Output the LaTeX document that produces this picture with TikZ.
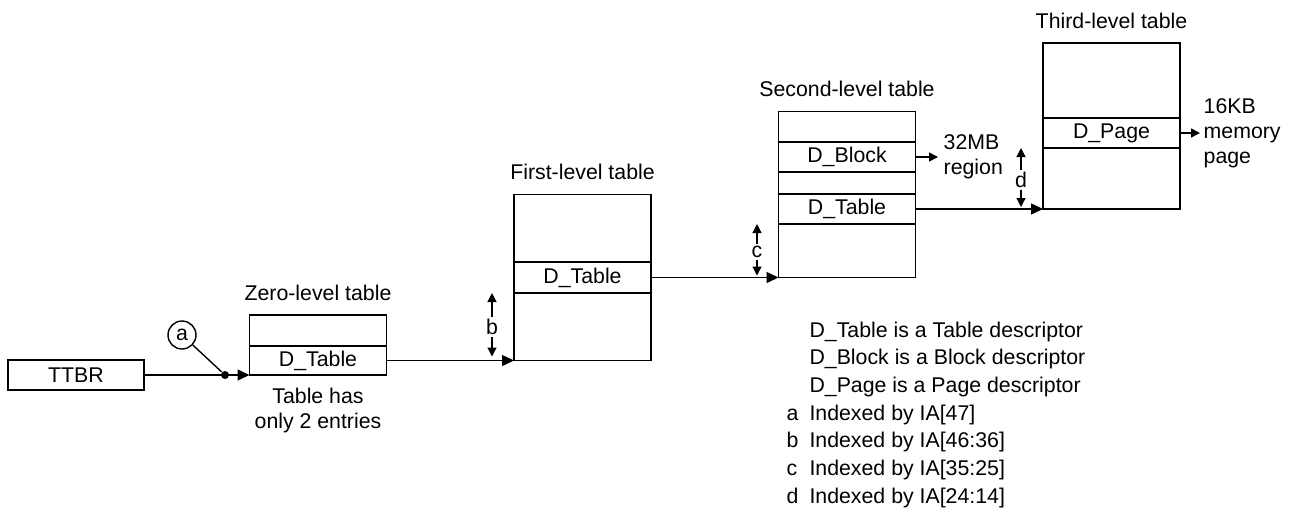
\documentclass[tikz,border=0pt]{standalone}
\usepackage{fontspec}
\setmainfont{Liberation Sans}
\usetikzlibrary{arrows.meta, positioning}
\tikzset{
  every picture/.style={line width=1.4pt, x=1pt, y=-1pt},
  every node/.append style={font=\fontsize{21.3}{25}\selectfont},
  tbl/.style={draw, minimum width=137pt, minimum height=166pt, inner sep=0pt, outer sep=0pt},
  entry/.style={draw, minimum width=137pt, minimum height=30pt, inner sep=0pt, outer sep=0pt},
  heading/.style={inner sep=0pt},
  link/.style={-{Triangle[length=12pt, width=11pt]}},
  short/.style={-{Triangle[length=9pt, width=9pt]}},
  idx/.style={-{Triangle[length=9pt, width=9pt]}, line width=1.2pt},
  idxlbl/.style={inner sep=1pt},
  note/.style={align=left, inner sep=0pt},
}

\begin{document}
\begin{tikzpicture}
  \useasboundingbox (0,0) rectangle (1298,523);
  % base register and zero-level table
  \node[entry, minimum width=136pt] (ttbr) at (76,375) {TTBR};
  \node[tbl, minimum height=60pt] (zt) at (318,345) {};
  \node[entry, anchor=south, minimum height=29pt] (ztD) at (zt.south) {D\_Table};
  \node[heading, above=14pt of zt] (ztH) {Zero-level table};
  \node[note, align=center, below=12pt of zt] (ztN) {Table has\\only 2 entries};
  \node[draw, circle, minimum size=28pt, inner sep=0pt] (ca) at (182,335) {a};
  \node[circle, fill, minimum size=8pt, inner sep=0pt] (dot) at (225,375) {};
  \draw[link] (ttbr.east |- zt.south) -- (zt.south west);
  \draw (ca) -- (dot);

  % first-level table
  \node[tbl] (ft) at (582.5,277.5) {};
  \node[entry, minimum height=31pt] (ftD) at (ft.center) {D\_Table};
  \node[heading, above=14pt of ft] (ftH) {First-level table};
  \draw[link] (ztD.east) -- (ft.south west);
  \node[idxlbl] (lb) at (492,327) {b};
  \draw[idx] (lb.north) -- (lb |- ftD.south);
  \draw[idx] (lb.south) -- ([yshift=4pt]lb |- ft.south);

  % second-level table
  \node[tbl] (st) at (847,194.5) {};
  \node[entry] (stB) at (847,157) {D\_Block};
  \node[entry] (stT) at (847,209) {D\_Table};
  \node[heading, above=14pt of st] (stH) {Second-level table};
  \draw[link] (ftD.east) -- (st.south west);
  \node[idxlbl] (lc) at (757,252) {c};
  \draw[idx] (lc.north) -- (lc |- stT.south);
  \draw[idx] (lc.south) -- ([yshift=2pt]lc |- st.south);
  \node[note, anchor=west] (rg) at (943,157) {32MB\\region};
  \draw[short, shorten >=5pt] (stB.east) -- (stB.east -| rg.west);

  % third-level table
  \node[tbl] (tt) at (1111.5,126) {};
  \node[entry] (ttP) at (1111.5,133) {D\_Page};
  \node[heading, above=14pt of tt] (ttH) {Third-level table};
  \draw[link] (stT.east) -- (tt.south west);
  \node[idxlbl] (ld) at (1021,180) {d};
  \draw[idx] (ld.north) -- (ld |- ttP.south);
  \draw[idx] (ld.south) -- ([yshift=2pt]ld |- tt.south);
  \node[note, anchor=west] (mem) at (1203,133) {16KB\\memory\\page};
  \draw[short, shorten >=3pt] (ttP.east) -- (ttP.east -| mem.west);

  % key
  \node[note, anchor=base west] (key) at (786,337) {\fontsize{21.3}{27.7}\selectfont
    \begin{tabular}[t]{@{}l@{\hspace{11pt}}l@{}}
      & D\_Table is a Table descriptor\\
      & D\_Block is a Block descriptor\\
      & D\_Page is a Page descriptor\\
      a & Indexed by IA[47]\\
      b & Indexed by IA[46:36]\\
      c & Indexed by IA[35:25]\\
      d & Indexed by IA[24:14]
    \end{tabular}};
\end{tikzpicture}
\end{document}
